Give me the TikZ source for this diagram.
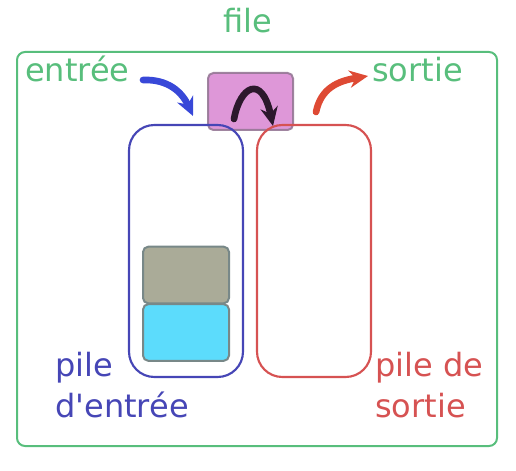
\documentclass[tikz,border=0pt]{standalone}
\usepackage{fontspec}
\newfontfamily\dvs{DejaVu Sans}
\usetikzlibrary{arrows.meta}
\definecolor{fgreen}{RGB}{88,190,124}
\definecolor{pblue}{RGB}{70,70,182}
\definecolor{pred}{RGB}{214,82,82}
\definecolor{ablue}{RGB}{56,72,216}
\definecolor{ared}{RGB}{222,74,52}
\definecolor{apink}{RGB}{218,140,212}
\definecolor{apinkb}{RGB}{150,120,150}
\definecolor{agrey}{RGB}{170,171,152}
\definecolor{acyan}{RGB}{92,220,252}
\definecolor{aedge}{RGB}{120,136,136}
\definecolor{adark}{RGB}{44,24,44}
\begin{document}
\begin{tikzpicture}[x=0.75pt,y=-0.75pt,
  lbl/.style={font=\dvs\fontsize{24}{30}\selectfont, inner sep=0pt, anchor=base west},
  stack/.style={draw, line width=1.6pt, rounded corners=19pt, inner sep=0pt,
    minimum width=85.5pt, minimum height=189pt},
  elem/.style={draw=aedge, line width=1.5pt, rounded corners=4pt, inner sep=0pt,
    minimum width=64.5pt, minimum height=42.5pt},
  flow/.style={line width=5pt, line cap=round, -{Stealth[length=14pt,width=13pt]}}]
\useasboundingbox (0,0) rectangle (516,470);
% queue frame
\draw[fgreen, line width=1.5pt, rounded corners=6pt] (17,52) rectangle (497,446);
\node[lbl, text=fgreen] (titre) at (223,33) {file};
\node[lbl, text=fgreen] (entree) at (25,82) {entrée};
\node[lbl, text=fgreen] (sortie) at (372,82) {sortie};
% transfer box between the two stacks
\node[fill=apink, draw=apinkb, line width=1.5pt, rounded corners=4pt, fill opacity=0.9, draw opacity=0.9,
  minimum width=63.75pt, minimum height=42.75pt, inner sep=0pt] (transfert) at (250.5,101.5) {};
% the two stacks
\node[stack, draw=pblue] (pin) at (186,251) {};
\node[stack, draw=pred] (pout) at (314,251) {};
% elements of the input stack
\node[elem, fill=agrey] (e2) at (186,275) {};
\node[elem, fill=acyan] (e1) at (186,332.5) {};
% stack labels
\node[lbl, text=pblue] (lin1) at (55,376) {pile};
\node[lbl, text=pblue] (lin2) at (55,417) {d'entrée};
\node[lbl, text=pred] (lout1) at (375,376) {pile de};
\node[lbl, text=pred] (lout2) at (375,417) {sortie};
% arrows
\coordinate (b0) at (143,80);
\coordinate (b1) at (193,116);
\draw[flow, ablue] (b0) .. controls (168,79) and (182,92) .. (b1);
\coordinate (k0) at (234,119);
\coordinate (k1) at (273,126);
\draw[flow, adark] (k0) .. controls (240,86) and (262,74) .. (k1);
\coordinate (r0) at (316,112);
\coordinate (r1) at (368,76);
\draw[flow, ared] (r0) .. controls (321,88) and (338,81) .. (r1);
\end{tikzpicture}
\end{document}
